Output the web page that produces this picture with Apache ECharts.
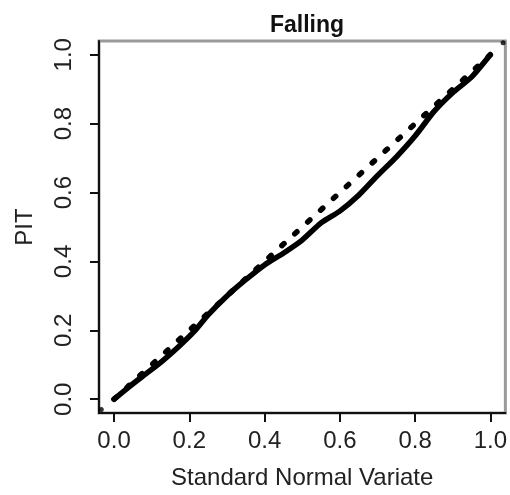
<!DOCTYPE html>
<html>
<head>
<meta charset="utf-8">
<script src="https://cdn.jsdelivr.net/npm/echarts@6/dist/echarts.min.js"></script>
<style>
  html, body { margin: 0; padding: 0; background: #fff; }
  #chart { width: 510px; height: 495px; }
</style>
</head>
<body>
<div id="chart"></div>
<script>
// PIT quantiles against the standard normal variate (falling limb)
const snv = [0, 0.04, 0.08, 0.125, 0.17, 0.215, 0.25, 0.3, 0.35, 0.4, 0.45, 0.5,
             0.55, 0.6, 0.65, 0.7, 0.75, 0.8, 0.85, 0.9, 0.95, 1.0];
const pit = [0, 0.036, 0.07, 0.108, 0.151, 0.199, 0.245, 0.30, 0.347, 0.39, 0.424, 0.462,
             0.512, 0.546, 0.592, 0.649, 0.703, 0.764, 0.835, 0.89, 0.935, 1.0];
// 1:1 reference line
const refX = [0, 1];
const refY = [0, 1];
// corner points
const cornerX = [-0.034, 1.034];
const cornerY = [-0.03, 1.035];
// tick labels on both axes
const ticks = [0, 0.2, 0.4, 0.6, 0.8, 1.0];
const axisMin = -0.04, axisMax = 1.04;

const font = 'Liberation Sans, Arial, Helvetica, sans-serif';
const zip = (a, b) => a.map((v, i) => [v, b[i]]);

const chart = echarts.init(document.getElementById('chart'), null, { renderer: 'canvas' });
chart.setOption({
  backgroundColor: '#fff',
  animation: false,
  title: {
    text: 'Falling',
    left: 302,
    top: 9,
    textAlign: 'center',
    textStyle: { fontFamily: font, fontWeight: 'bold', fontSize: 23, color: '#111' }
  },
  grid: {
    left: 99, right: 4, top: 41, bottom: 79,
    show: true, borderColor: '#9a9a9a', borderWidth: 3, backgroundColor: '#fff'
  },
  xAxis: {
    type: 'value', min: axisMin, max: axisMax,
    name: 'Standard Normal Variate', nameLocation: 'middle', nameGap: 53,
    nameTextStyle: { fontFamily: font, fontSize: 24, color: '#222' },
    axisLine: { show: true, onZero: false, lineStyle: { color: '#111', width: 2 } },
    axisTick: { show: true, customValues: ticks, length: 9, lineStyle: { color: '#111', width: 2 } },
    axisLabel: {
      customValues: ticks, margin: 16,
      fontFamily: font, fontSize: 24, color: '#222',
      formatter: v => v.toFixed(1)
    },
    splitLine: { show: false }
  },
  yAxis: {
    type: 'value', min: axisMin, max: axisMax,
    name: 'PIT', nameLocation: 'middle', nameGap: 62, nameRotate: 90,
    nameTextStyle: { fontFamily: font, fontSize: 24, color: '#222' },
    axisLine: { show: true, onZero: false, lineStyle: { color: '#111', width: 2 } },
    axisTick: { show: true, customValues: ticks, length: 9, lineStyle: { color: '#111', width: 2 } },
    axisLabel: {
      customValues: ticks, margin: 23, rotate: 90,
      fontFamily: font, fontSize: 24, color: '#222',
      formatter: v => v.toFixed(1)
    },
    splitLine: { show: false }
  },
  series: [
    {
      type: 'line', data: zip(refX, refY), symbol: 'none', silent: true,
      lineStyle: { color: '#000', width: 5.5, type: [3, 14.5], cap: 'round' }
    },
    {
      type: 'line', data: zip(snv, pit), symbol: 'none', smooth: 0.2, silent: true,
      lineStyle: { color: '#000', width: 5.5, cap: 'round', join: 'round' }
    },
    {
      type: 'scatter', data: zip(cornerX, cornerY), symbol: 'circle', symbolSize: 5,
      itemStyle: { color: '#000' }, silent: true
    }
  ]
});
</script>
</body>
</html>
